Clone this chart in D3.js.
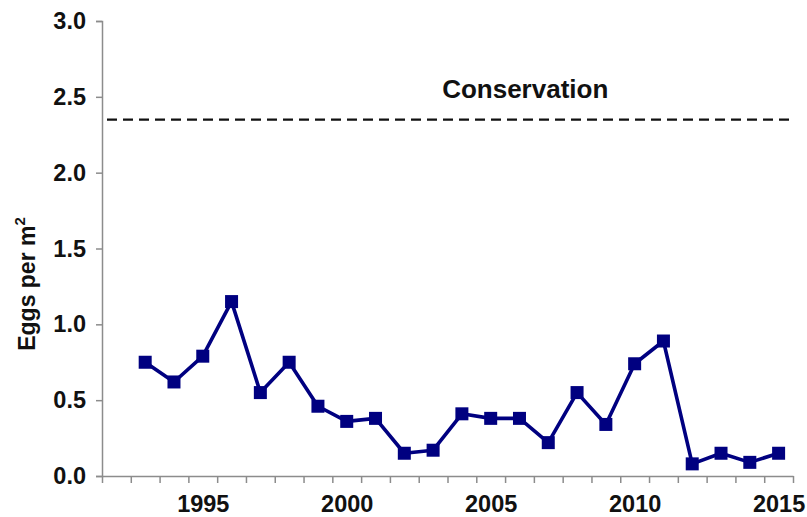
<!DOCTYPE html>
<html>
<head>
<meta charset="utf-8">
<script src="https://cdn.jsdelivr.net/npm/d3@7"></script>
<style>
  html, body { margin: 0; padding: 0; background: #ffffff; }
  svg { display: block; font-family: "Liberation Sans", Arial, sans-serif; }
</style>
</head>
<body>
<svg id="chart" width="807" height="517"></svg>
<script>
// ---- Data ----
const years = [1993, 1994, 1995, 1996, 1997, 1998, 1999, 2000, 2001, 2002, 2003, 2004,
               2005, 2006, 2007, 2008, 2009, 2010, 2011, 2012, 2013, 2014, 2015];
const eggs  = [0.75, 0.62, 0.79, 1.15, 0.55, 0.75, 0.46, 0.36, 0.38, 0.15, 0.17, 0.41,
               0.38, 0.38, 0.22, 0.55, 0.34, 0.74, 0.89, 0.08, 0.15, 0.09, 0.15];
const conservationLevel = 2.35;
const conservationLabel = "Conservation";
const yTicks = [0, 0.5, 1.0, 1.5, 2.0, 2.5, 3.0];
const xLabelYears = [1995, 2000, 2005, 2010, 2015];
const firstCategory = 1992, lastCategory = 2015;

// ---- Layout ----
const svg = d3.select("#chart");
const mLeft = 102, mRight = 793, mTop = 21, mBottom = 476;
const axisColor = "#8c8c8c";
const lineColor = "#000080";

const x = d3.scaleLinear().domain([firstCategory - 0.5, lastCategory + 0.5]).range([mLeft, mRight]);
const y = d3.scaleLinear().domain([0, 3]).range([mBottom, mTop]);

// Y axis
const yAxis = svg.append("g")
  .attr("transform", `translate(${mLeft},0)`)
  .call(d3.axisLeft(y).tickValues(yTicks).tickFormat(d3.format(".1f")).tickSize(6).tickPadding(10));
yAxis.select(".domain").attr("stroke", axisColor).attr("stroke-width", 1.5);
yAxis.selectAll(".tick line").attr("stroke", axisColor).attr("stroke-width", 1.5);
yAxis.selectAll(".tick text")
  .attr("fill", "#111").attr("font-size", 23.5).attr("font-weight", "bold")
  .attr("font-family", "'Liberation Sans', Arial, sans-serif");

// X axis: tick marks at category boundaries
const boundaries = d3.range(firstCategory - 0.5, lastCategory + 1, 1);
const xAxisMarks = svg.append("g")
  .attr("transform", `translate(0,${mBottom})`)
  .call(d3.axisBottom(x).tickValues(boundaries).tickFormat("").tickSize(7).tickSizeOuter(0));
xAxisMarks.select(".domain").attr("stroke", axisColor).attr("stroke-width", 1.5);
xAxisMarks.selectAll(".tick line").attr("stroke", axisColor).attr("stroke-width", 1.5);

// X axis labels at category centres
const xAxisLabels = svg.append("g")
  .attr("transform", `translate(0,${mBottom})`)
  .call(d3.axisBottom(x).tickValues(xLabelYears).tickFormat(d3.format("d")).tickSize(0).tickPadding(19));
xAxisLabels.select(".domain").remove();
xAxisLabels.selectAll(".tick text")
  .attr("fill", "#111").attr("font-size", 23.5).attr("font-weight", "bold")
  .attr("font-family", "'Liberation Sans', Arial, sans-serif");

// Y axis title
const yTitle = svg.append("text")
  .attr("transform", `translate(35,${(218 + 350) / 2}) rotate(-90)`)
  .attr("text-anchor", "middle")
  .attr("font-size", 23).attr("font-weight", "bold").attr("fill", "#111");
yTitle.append("tspan").text("Eggs per m");
yTitle.append("tspan").attr("font-size", 15).attr("dy", -10).text("2");

// Conservation dashed line
svg.append("line")
  .attr("x1", x(firstCategory - 0.5) + 5).attr("x2", x(lastCategory + 0.5))
  .attr("y1", y(conservationLevel)).attr("y2", y(conservationLevel))
  .attr("stroke", "#111").attr("stroke-width", 2.3)
  .attr("stroke-dasharray", "10,6");

svg.append("text")
  .attr("x", x(2006.2)).attr("y", y(conservationLevel) - 22)
  .attr("text-anchor", "middle")
  .attr("font-size", 26).attr("font-weight", "bold").attr("fill", "#111")
  .text(conservationLabel);

// Data line
const pts = years.map((yr, i) => ({ yr, v: eggs[i] }));
svg.append("path")
  .datum(pts)
  .attr("fill", "none").attr("stroke", lineColor).attr("stroke-width", 3.6)
  .attr("stroke-linejoin", "round")
  .attr("d", d3.line().x(d => x(d.yr)).y(d => y(d.v)));

const ms = 13;
svg.append("g").selectAll("rect")
  .data(pts).join("rect")
  .attr("x", d => x(d.yr) - ms / 2).attr("y", d => y(d.v) - ms / 2)
  .attr("width", ms).attr("height", ms)
  .attr("fill", lineColor);
</script>
</body>
</html>
